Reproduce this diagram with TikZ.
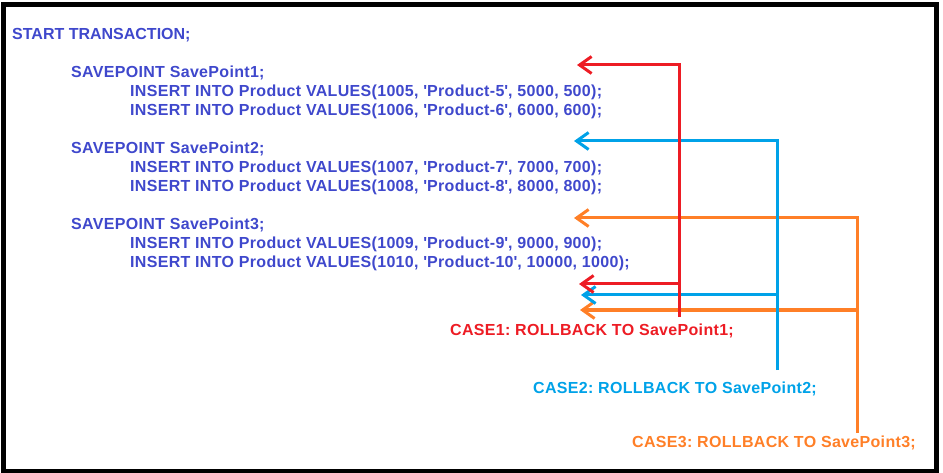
\documentclass[tikz,border=0pt]{standalone}
\usepackage{fontspec}
\setmainfont{Liberation Sans}
\frenchspacing
\usetikzlibrary{arrows.meta}
\definecolor{codeblue}{HTML}{3F48CC}
\definecolor{cred}{HTML}{ED1C24}
\definecolor{cblue}{HTML}{00A2E8}
\definecolor{corange}{HTML}{FF7F27}
\newcommand{\q}{\textquotesingle}
\begin{document}
\begin{tikzpicture}[x=1pt,y=-1pt,
  plaincode/.style={anchor=base west,inner sep=0pt,font=\fontsize{16}{19}\selectfont\bfseries,text=codeblue},
  code/.style={anchor=base west,inner sep=0pt,font=\fontsize{16}{19}\selectfont\bfseries\addfontfeature{LetterSpace=2}, text=codeblue},
  casetext/.style={anchor=base west,inner sep=0pt,font=\fontsize{16}{19}\selectfont\bfseries\addfontfeature{LetterSpace=2}},
  link/.style={line width=3pt},
  tiparrow/.style={link,-{Straight Barb[length=12pt,width=17pt,line width=3pt]}}]
\useasboundingbox (0,0) rectangle (943,473);
\draw[line width=4.5pt] (3.5,4.5) rectangle (936.5,471);
% code lines
\node[plaincode] (start) at (12,40) {START TRANSACTION;};
\node[code] (sp1) at (71,78) {SAVEPOINT SavePoint1;};
\node[code] (i5) at (130,97) {INSERT INTO Product VALUES(1005, \q Product-5\q, 5000, 500);};
\node[code] (i6) at (130,116) {INSERT INTO Product VALUES(1006, \q Product-6\q, 6000, 600);};
\node[code] (sp2) at (71,154) {SAVEPOINT SavePoint2;};
\node[code] (i7) at (130,173) {INSERT INTO Product VALUES(1007, \q Product-7\q, 7000, 700);};
\node[code] (i8) at (130,192) {INSERT INTO Product VALUES(1008, \q Product-8\q, 8000, 800);};
\node[code] (sp3) at (71,230) {SAVEPOINT SavePoint3;};
\node[code] (i9) at (130,249) {INSERT INTO Product VALUES(1009, \q Product-9\q, 9000, 900);};
\node[code] (i10) at (130,268) {INSERT INTO Product VALUES(1010, \q Product-10\q, 10000, 1000);};
% case labels
\node[casetext,text=cred] (c1) at (450,335) {CASE1: ROLLBACK TO SavePoint1;};
\node[casetext,text=cblue] (c2) at (533,393) {CASE2: ROLLBACK TO SavePoint2;};
\node[casetext,text=corange] (c3) at (632,447) {CASE3: ROLLBACK TO SavePoint3;};
% coordinates
\coordinate (rbot) at (679,317);
\coordinate (rtop) at (679,65);
\coordinate (rtip1) at (577,65);
\coordinate (rmid) at (679,284);
\coordinate (rtip2) at (579,284);
\coordinate (bbot) at (777,370);
\coordinate (btop) at (777,141);
\coordinate (btip1) at (574,141);
\coordinate (bmid) at (777,295);
\coordinate (btip2) at (581,295);
\coordinate (obot) at (857,433);
\coordinate (otop) at (859,218);
\coordinate (otip1) at (574,218);
\coordinate (omid) at (859,310);
\coordinate (otip2) at (580,310);
% orange
\draw[tiparrow,corange] (obot) |- (otip1);
\draw[tiparrow,corange] (omid) -- (otip2);
% blue
\draw[tiparrow,cblue] (bbot) |- (btip1);
\draw[tiparrow,cblue] (bmid) -- (btip2);
% red
\draw[tiparrow,cred] (rbot) |- (rtip1);
\draw[tiparrow,cred] (rmid) -- (rtip2);
\end{tikzpicture}
\end{document}
